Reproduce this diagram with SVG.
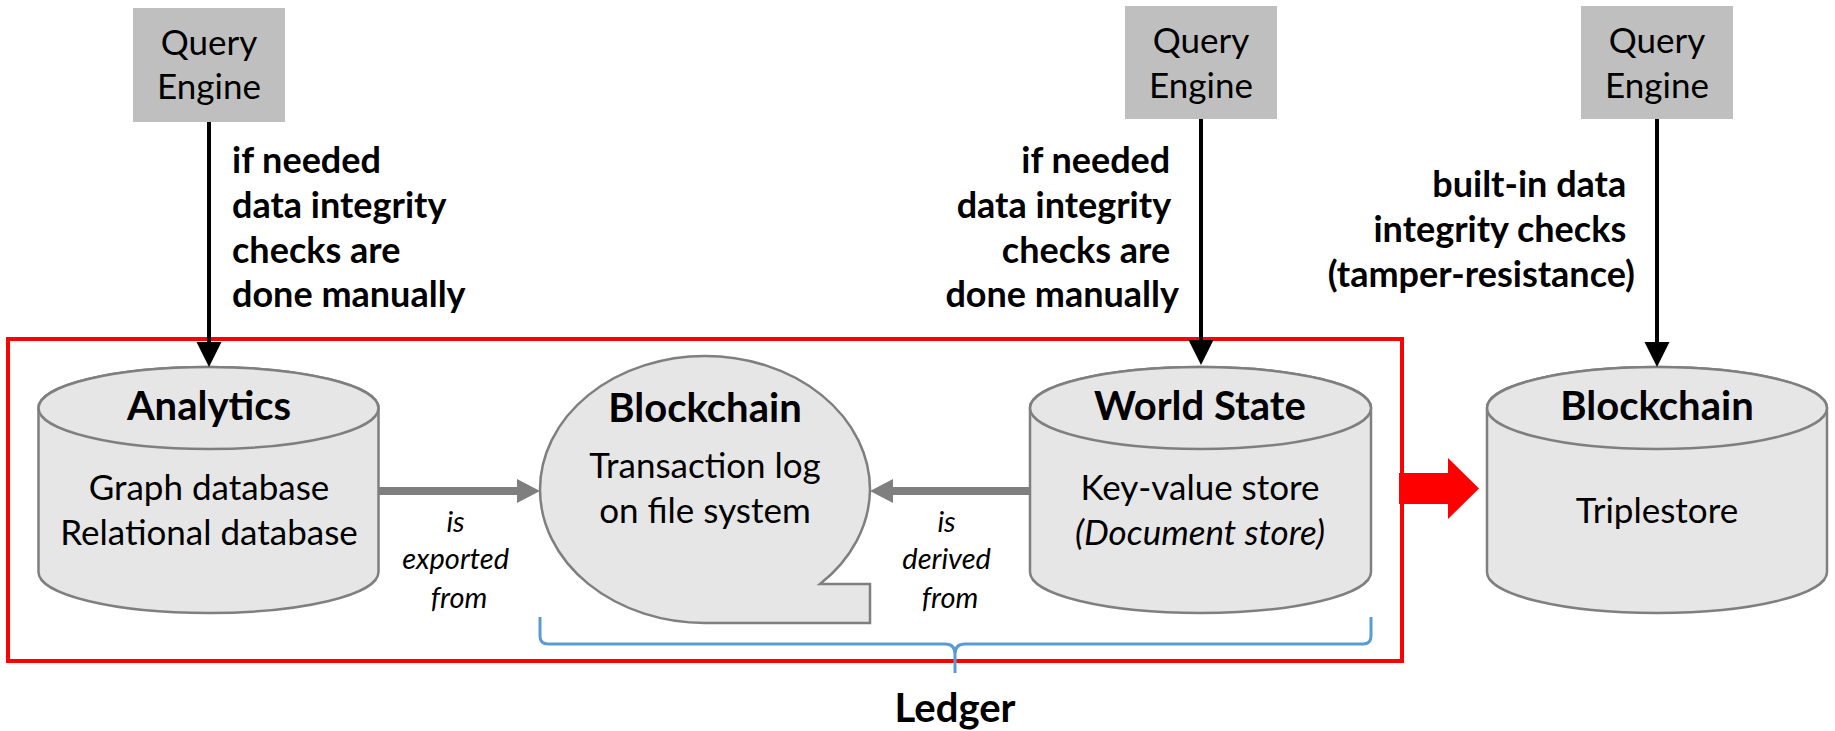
<svg xmlns="http://www.w3.org/2000/svg" width="1835" height="731" viewBox="0 0 1835 731">
  <style>
    text { font-family: Lato, "Open Sans", "Liberation Sans", sans-serif; fill: #000; }
    .qe { font-size: 35px; text-anchor: middle; }
    .note { font-size: 36px; font-weight: bold; }
    .title { font-size: 40px; font-weight: bold; text-anchor: middle; }
    .body { font-size: 35px; text-anchor: middle; }
    .rel { font-size: 29px; font-style: italic; text-anchor: middle; }
    .engine { fill: #bfbfbf; }
    .store { fill: #e6e6e6; stroke: #7f7f7f; stroke-width: 2.5; }
    .query { stroke: #000; stroke-width: 4; fill: none; }
    .link { stroke: #7f7f7f; stroke-width: 8; fill: none; }
  </style>

  <rect width="1835" height="731" fill="#fff"/>

  <!-- ledger frame -->
  <rect id="ledger-frame" x="8" y="339" width="1394" height="322" fill="none" stroke="#ff0000" stroke-width="4"/>

  <!-- query engines -->
  <g id="qe1">
    <rect class="engine" x="133" y="8" width="152" height="114"/>
    <text class="qe" x="209" y="55">Query</text>
    <text class="qe" x="209" y="99">Engine</text>
  </g>
  <g id="qe2">
    <rect class="engine" x="1125" y="6" width="152" height="113"/>
    <text class="qe" x="1201" y="53">Query</text>
    <text class="qe" x="1201" y="98">Engine</text>
  </g>
  <g id="qe3">
    <rect class="engine" x="1581" y="6" width="152" height="113"/>
    <text class="qe" x="1657" y="53">Query</text>
    <text class="qe" x="1657" y="98">Engine</text>
  </g>

  <!-- storage nodes -->
  <g id="analytics">
    <path class="store" d="M38.5,408 V572 A170,41 0 0 0 378.5,572 V408 A170,41 0 0 0 38.5,408 Z"/>
    <ellipse class="store" cx="208.5" cy="408" rx="170" ry="41"/>
    <text class="title" x="209" y="420">Analytics</text>
    <text class="body" x="209" y="500">Graph database</text>
    <text class="body" x="209" y="545">Relational database</text>
  </g>

  <g id="blockchain-log">
    <path class="store" d="M870,489.5 A165,133.5 0 0 0 540,489.5 A165,133.5 0 0 0 705,623 H870 V584 H820 A165,133.5 0 0 0 870,489.5 Z"/>
    <text class="title" x="705" y="422">Blockchain</text>
    <text class="body" x="705" y="478">Transaction log</text>
    <text class="body" x="705" y="523">on file system</text>
  </g>

  <g id="world-state">
    <path class="store" d="M1030,408 V572 A170.5,41 0 0 0 1371,572 V408 A170.5,41 0 0 0 1030,408 Z"/>
    <ellipse class="store" cx="1200.5" cy="408" rx="170.5" ry="41"/>
    <text class="title" x="1200" y="420">World State</text>
    <text class="body" x="1200" y="500">Key-value store</text>
    <text class="body" x="1200" y="545" font-style="italic">(Document store)</text>
  </g>

  <g id="blockchain-store">
    <path class="store" d="M1487,408 V572 A170,41 0 0 0 1827,572 V408 A170,41 0 0 0 1487,408 Z"/>
    <ellipse class="store" cx="1657" cy="408" rx="170" ry="41"/>
    <text class="title" x="1657" y="420">Blockchain</text>
    <text class="body" x="1657" y="523">Triplestore</text>
  </g>

  <!-- connectors -->
  <g id="connectors">
    <line class="query" x1="209" y1="122" x2="209" y2="344"/>
    <path d="M196.5,342 H221.5 L209,367 Z" fill="#000"/>
    <line class="query" x1="1201" y1="119" x2="1201" y2="342"/>
    <path d="M1188.5,340 H1213.5 L1201,365 Z" fill="#000"/>
    <line class="query" x1="1657" y1="119" x2="1657" y2="344"/>
    <path d="M1644.5,342 H1669.5 L1657,367 Z" fill="#000"/>

    <line class="link" x1="378.5" y1="491" x2="519" y2="491"/>
    <path d="M517,479 L540,491 L517,503 Z" fill="#7f7f7f"/>
    <line class="link" x1="1030" y1="491" x2="891" y2="491"/>
    <path d="M893,479 L870,491 L893,503 Z" fill="#7f7f7f"/>

    <path d="M1399,473 H1448 V458 L1479,488.5 L1448,519 V504 H1399 Z" fill="#ff0000"/>
  </g>

  <!-- connector labels -->
  <g id="labels">
    <text class="note">
      <tspan x="232" y="173">if needed</tspan>
      <tspan x="232" y="218">data integrity</tspan>
      <tspan x="232" y="263">checks are</tspan>
      <tspan x="232" y="307">done manually</tspan>
    </text>
    <text class="note" text-anchor="end">
      <tspan x="1179" y="173">if needed</tspan>
      <tspan x="1179" y="218">data integrity</tspan>
      <tspan x="1179" y="263">checks are</tspan>
      <tspan x="1179" y="307">done manually</tspan>
    </text>
    <text class="note" text-anchor="end">
      <tspan x="1635" y="197">built-in data</tspan>
      <tspan x="1635" y="242">integrity checks</tspan>
      <tspan x="1635" y="287">(tamper-resistance)</tspan>
    </text>
    <text class="rel">
      <tspan x="459" y="532">is</tspan>
      <tspan x="459" y="569">exported</tspan>
      <tspan x="459" y="608">from</tspan>
    </text>
    <text class="rel">
      <tspan x="950" y="532">is</tspan>
      <tspan x="950" y="569">derived</tspan>
      <tspan x="950" y="608">from</tspan>
    </text>
  </g>

  <!-- ledger brace -->
  <g id="ledger">
    <path d="M540,617 V636 Q540,644 548,644 H945 Q955,644 955,654 V673 M955,654 Q955,644 965,644 H1363 Q1371,644 1371,636 V617" fill="none" stroke="#5b9bd5" stroke-width="3"/>
    <text class="title" x="955" y="722">Ledger</text>
  </g>
</svg>
